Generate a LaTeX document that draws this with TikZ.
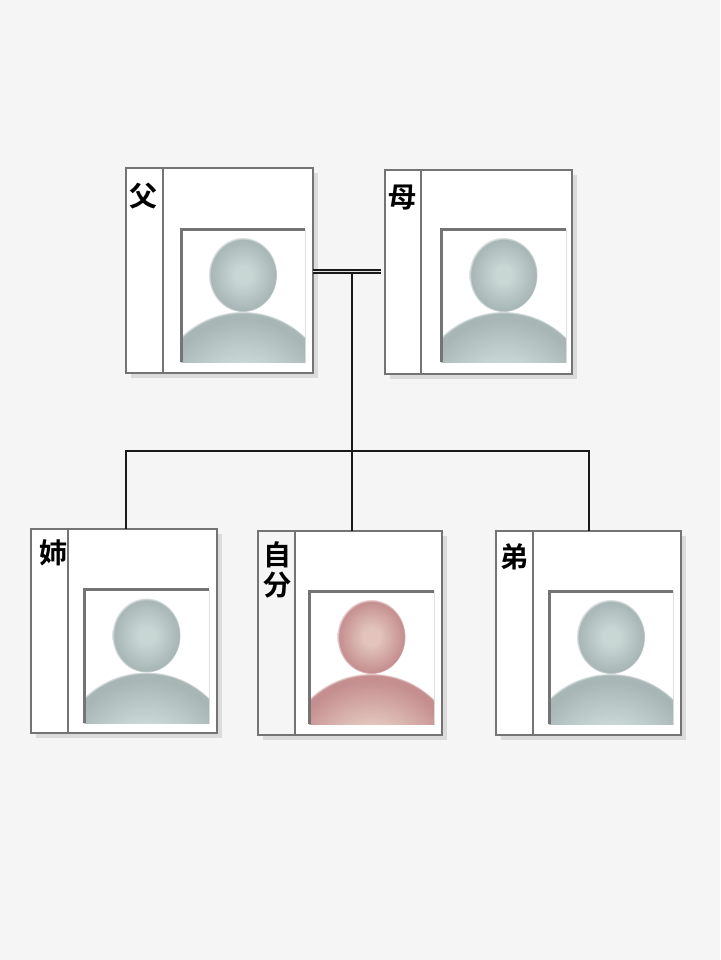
\documentclass[tikz,border=0pt]{standalone}
\usepackage{fontspec}
\newfontfamily\cjk{Noto Sans CJK JP}[BoldFont={Noto Sans CJK JP Bold}]
\usetikzlibrary{calc,shadows}
\definecolor{paper}{HTML}{F5F5F5}
\definecolor{edge}{HTML}{747474}
\definecolor{graylight}{HTML}{C8D6D4}
\definecolor{graydark}{HTML}{A8B7B6}
\definecolor{grayfade}{HTML}{DDE4E3}
\definecolor{pinklight}{HTML}{E2C4BC}
\definecolor{pinkdark}{HTML}{C58F90}
\definecolor{pinkfade}{HTML}{EBD6D3}
\pgfdeclareradialshading{headgray}{\pgfpoint{0bp}{0bp}}{color(0bp)=(graylight); color(6bp)=(graylight); color(23.8bp)=(graydark); color(25bp)=(grayfade); color(50bp)=(grayfade)}
\pgfdeclareradialshading{headpink}{\pgfpoint{0bp}{0bp}}{color(0bp)=(pinklight); color(6bp)=(pinklight); color(23.8bp)=(pinkdark); color(25bp)=(pinkfade); color(50bp)=(pinkfade)}
\pgfdeclareradialshading{bodygray}{\pgfpoint{0bp}{0bp}}{color(0bp)=(graylight); color(11bp)=(graylight); color(23bp)=(graydark); color(24.7bp)=(graydark); color(25bp)=(grayfade); color(50bp)=(grayfade)}
\pgfdeclareradialshading{bodypink}{\pgfpoint{0bp}{0bp}}{color(0bp)=(pinklight); color(11bp)=(pinklight); color(23bp)=(pinkdark); color(24.7bp)=(pinkdark); color(25bp)=(pinkfade); color(50bp)=(pinkfade)}
\tikzset{
	card/.style={draw=edge, line width=2pt, fill=white, inner sep=0pt, outer sep=0pt,
		drop shadow={shadow xshift=5pt, shadow yshift=-5pt, fill=black!14, opacity=1}},
	sidebar/.style={draw=edge, line width=2pt, fill=white, inner sep=0pt, outer sep=0pt},
	photo/.style={draw=black!12, line width=0.8pt, fill=white, inner sep=0pt, outer sep=0pt},
	photoedge/.style={draw=edge, line width=3pt},
	kanji/.style={font=\cjk\bfseries\fontsize{28pt}{30pt}\selectfont, align=center, inner sep=0pt},
	wire/.style={draw=black!90, line width=2pt},
	couple/.style={draw=black!90, line width=1.5pt, double=black!12, double distance=1.6pt}
}
\newcommand{\bust}[2]{
	\begin{scope}
		\clip (#1.south west) rectangle (#1.north east);
		\shade[shading=body#2] ($(#1.center)+(0,105.5)$) circle (89);
	\end{scope}
	\shade[shading=head#2] ($(#1.center)+(0,-20.5)$) ellipse (34 and 37);
	\draw[photoedge] (#1.south west) -- (#1.north west) -- (#1.north east);
}
\begin{document}
\begin{tikzpicture}[x=1pt,y=-1pt]
	\fill[paper] (0,0) rectangle (720,960);
	\useasboundingbox (0,0) rectangle (720,960);
	\node (fa) at (219.5,270.5) [card, minimum width=187, minimum height=205] {};
	\node (mo) at (478.5,272) [card, minimum width=187, minimum height=204] {};
	\node (sis) at (124,631) [card, minimum width=186, minimum height=204] {};
	\node (me) at (350,632.5) [card, minimum width=184, minimum height=204] {};
	\node (bro) at (588.5,633) [card, minimum width=185, minimum height=204] {};
	\node (faside) at (144.5,270.5) [sidebar, minimum width=37, minimum height=205] {};
	\node (moside) at (403,272) [sidebar, minimum width=36, minimum height=204] {};
	\node (sisside) at (49.5,631) [sidebar, minimum width=37, minimum height=204] {};
	\node (meside) at (276.5,632.5) [sidebar, fill=paper, minimum width=37, minimum height=204] {};
	\node (broside) at (514.5,633) [sidebar, minimum width=37, minimum height=204] {};
	\node (falabel) at (143,196) [kanji] {父};
	\node (molabel) at (402,198) [kanji] {母};
	\node (sislabel) at (53,553) [kanji] {姉};
	\node (melabel) at (277,570) [kanji] {自\\分};
	\node (brolabel) at (514,557) [kanji] {弟};
	\node (fapic) at (243,295.5) [photo, minimum width=124, minimum height=133] {};
	\node (mopic) at (503.5,295.5) [photo, minimum width=125, minimum height=133] {};
	\node (sispic) at (146.5,656) [photo, minimum width=125, minimum height=134] {};
	\node (mepic) at (371.5,657.5) [photo, minimum width=125, minimum height=133] {};
	\node (bropic) at (611,657.5) [photo, minimum width=124, minimum height=133] {};
	\bust{fapic}{gray}
	\bust{mopic}{gray}
	\bust{sispic}{gray}
	\bust{mepic}{pink}
	\bust{bropic}{gray}
	\coordinate (mid) at (352,271.5);
	\coordinate (busleft) at (126,451);
	\coordinate (busright) at (589,451);
	\draw[couple, shorten >=4pt] (fa.east |- mid) -- (mo.west |- mid);
	\draw[wire] (mid) -- (mid |- me.north);
	\draw[wire] (busleft |- sis.north) -- (busleft) -- (busright) -- (busright |- bro.north);
\end{tikzpicture}
\end{document}
